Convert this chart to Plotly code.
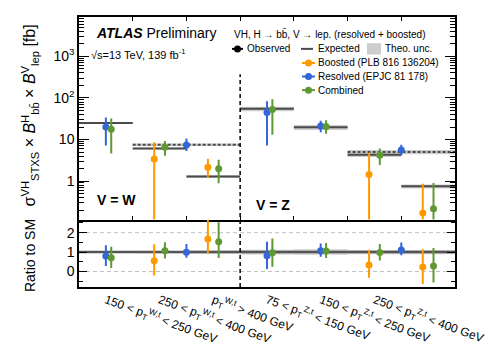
import numpy as np
import plotly.graph_objects as go

# ---------------- data ----------------
categories = [
    "150 &lt; p<sub>T</sub><sup>W,t</sup> &lt; 250 GeV",
    "250 &lt; p<sub>T</sub><sup>W,t</sup> &lt; 400 GeV",
    "p<sub>T</sub><sup>W,t</sup> &gt; 400 GeV",
    "75 &lt; p<sub>T</sub><sup>Z,t</sup> &lt; 150 GeV",
    "150 &lt; p<sub>T</sub><sup>Z,t</sup> &lt; 250 GeV",
    "250 &lt; p<sub>T</sub><sup>Z,t</sup> &lt; 400 GeV",
    "p<sub>T</sub><sup>Z,t</sup> &gt; 400 GeV",
]
expected = [25.0, 6.1, 1.28, 54.7, 19.7, 4.29, 0.745]
theo_unc = [0.05, 0.06, 0.08, 0.12, 0.14, 0.11, 0.11]

# boosted (orange): value, lower edge, upper edge (None = no measurement)
boosted_val = [None, 3.4, 2.15, None, None, 1.44, 0.171]
boosted_lo = [None, -1.28, 1.21, None, None, -1.37, -0.48]
boosted_hi = [None, 8.6, 3.43, None, None, 4.8, 0.855]

# combined (green)
combined_val = [17.7, 6.5, 1.97, 52.7, 20.7, 4.2, 0.214]
combined_lo = [4.6, 4.07, 0.89, 13.0, 13.7, 2.42, -0.42]
combined_hi = [32.0, 9.2, 3.25, 93.0, 28.9, 6.1, 0.90]

# resolved (blue): bins given by first / last category index
resolved_first = [0, 1, 3, 4, 5]
resolved_last = [0, 2, 3, 4, 6]
resolved_expected = [25.0, 7.5, 54.7, 19.7, 5.0]
resolved_unc = [0.05, 0.07, 0.12, 0.14, 0.12]
resolved_val = [20.0, 7.4, 44.5, 21.1, 5.56]
resolved_lo = [7.2, 5.3, 7.2, 14.9, 4.2]
resolved_hi = [33.7, 10.6, 84.0, 28.3, 7.5]

y_ticks = [1, 10, 100, 1000]
y_ticktext = ["1", "10", "10<sup>2</sup>", "10<sup>3</sup>"]
r_ticks = [0, 1, 2]

# ---------------- style ----------------
C_ORANGE = "#ff9900"
C_BLUE = "#3366d6"
C_GREEN = "#5f9933"
C_EXP = "#4a4a4a"
C_BAND = "#cdcdcd"
FONT = "Liberation Sans, Arial, Helvetica, sans-serif"

W, H = 497, 347
L, R, T, B = 71, 50, 7, 52
PW, PH = W - L - R, H - T - B


def px(x):
    return (x - L) / PW


def py(y):
    return (H - B - y) / PH


n = len(categories)
centers = np.arange(1, n + 1, dtype=float)
OFF = 0.1
YMIN_CLIP = 1e-3

fig = go.Figure()


def band_trace(xl, xh, y0, y1, yax, xax):
    return go.Scatter(x=[xl, xh, xh, xl, xl], y=[y0, y0, y1, y1, y0], mode="lines",
                      fill="toself", fillcolor=C_BAND, line=dict(width=0),
                      xaxis=xax, yaxis=yax, showlegend=False, hoverinfo="skip")


# bands (per bin)
for i in range(n):
    e, u = expected[i], theo_unc[i]
    fig.add_trace(band_trace(centers[i] - 0.5, centers[i] + 0.5, e * (1 - u), e * (1 + u), "y", "x"))
    fig.add_trace(band_trace(centers[i] - 0.5, centers[i] + 0.5, 1 - u, 1 + u, "y2", "x2"))
# merged resolved bands
for j in range(len(resolved_val)):
    a, b = resolved_first[j], resolved_last[j]
    if a != b:
        e, u = resolved_expected[j], resolved_unc[j]
        fig.add_trace(band_trace(centers[a] - 0.5, centers[b] + 0.5, e * (1 - u), e * (1 + u), "y", "x"))

# expected lines
xs, ys = [], []
for i in range(n):
    xs += [centers[i] - 0.5, centers[i] + 0.5, None]
    ys += [expected[i], expected[i], None]
fig.add_trace(go.Scatter(x=xs, y=ys, mode="lines", line=dict(color=C_EXP, width=2),
                         xaxis="x", yaxis="y", showlegend=False, hoverinfo="skip"))
xs, ys = [], []
for j in range(len(resolved_val)):
    a, b = resolved_first[j], resolved_last[j]
    if a != b:
        xs += [centers[a] - 0.5, centers[b] + 0.5, None]
        ys += [resolved_expected[j], resolved_expected[j], None]
fig.add_trace(go.Scatter(x=xs, y=ys, mode="lines", line=dict(color=C_EXP, width=2, dash="3px,2px"),
                         xaxis="x", yaxis="y", showlegend=False, hoverinfo="skip"))
# SM line in ratio
fig.add_trace(go.Scatter(x=[centers[0] - 0.5, centers[-1] + 0.5], y=[1, 1], mode="lines",
                         line=dict(color="#555555", width=2.5), xaxis="x2", yaxis="y2",
                         showlegend=False, hoverinfo="skip"))


def points(xv, val, lo, hi, exp, color):
    x, y, ep, em = [], [], [], []
    rx, ry, rep, rem = [], [], [], []
    for k in range(len(val)):
        if val[k] is None:
            continue
        v = val[k]
        lo_clip = lo[k] if lo[k] > 0 else YMIN_CLIP
        x.append(xv[k]); y.append(v); ep.append(hi[k] - v); em.append(v - lo_clip)
        rx.append(xv[k]); ry.append(v / exp[k])
        rep.append((hi[k] - v) / exp[k]); rem.append((v - lo[k]) / exp[k])
    mk = dict(color=color, size=7)
    fig.add_trace(go.Scatter(x=x, y=y, mode="markers", marker=mk, xaxis="x", yaxis="y",
                             error_y=dict(type="data", symmetric=False, array=ep, arrayminus=em,
                                          color=color, thickness=2, width=0),
                             showlegend=False))
    fig.add_trace(go.Scatter(x=rx, y=ry, mode="markers", marker=mk, xaxis="x2", yaxis="y2",
                             error_y=dict(type="data", symmetric=False, array=rep, arrayminus=rem,
                                          color=color, thickness=2, width=0),
                             showlegend=False))


points(centers - OFF, boosted_val, boosted_lo, boosted_hi, expected, C_ORANGE)
res_x = [(centers[a] + centers[b]) / 2 for a, b in zip(resolved_first, resolved_last)]
points(res_x, resolved_val, resolved_lo, resolved_hi, resolved_expected, C_BLUE)
points(centers + OFF, combined_val, combined_lo, combined_hi, expected, C_GREEN)

# ---------------- axes ----------------
minor_up = [m * 10.0 ** d for d in range(-1, 4) for m in range(2, 10)]
boundaries = list(centers[:-1] + 0.5)
axis_common = dict(showline=True, linecolor="black", linewidth=1.5, mirror="ticks",
                   ticks="inside", tickcolor="black", showgrid=False, zeroline=False)

fig.update_layout(
    width=W, height=H, margin=dict(l=L, r=R, t=T, b=B),
    paper_bgcolor="white", plot_bgcolor="white",
    font=dict(family=FONT, color="black", size=12),
    xaxis=dict(domain=[0, 1], anchor="y", range=[0.5, n + 0.5], tickvals=boundaries,
               ticklen=4, showticklabels=False, **axis_common),
    yaxis=dict(domain=[0.25, 1], anchor="x", type="log", range=[-0.926, 3.95],
               tickvals=y_ticks, ticktext=y_ticktext, ticklen=10,
               tickfont=dict(size=14),
               minor=dict(tickvals=minor_up, ticks="inside", ticklen=5, tickcolor="black"),
               **axis_common),
    xaxis2=dict(domain=[0, 1], anchor="y2", range=[0.5, n + 0.5], tickvals=list(centers),
                ticktext=categories, tickangle=20, tickfont=dict(size=12),
                showline=True, linecolor="black", linewidth=1.5, mirror=False, ticks="",
                showgrid=False, zeroline=False),
    yaxis2=dict(domain=[0, 0.25], anchor="x2", range=[-0.8, 2.68], tickvals=r_ticks,
                ticklen=8, tickfont=dict(size=14),
                minor=dict(tickvals=[-0.5, 0.5, 1.5, 2.5], ticks="inside", ticklen=4, tickcolor="black"),
                **axis_common),
)

shapes = []
# dashed grid lines in ratio
for gv in [0, 2]:
    shapes.append(dict(type="line", xref="x2", yref="y2", x0=0.5, x1=n + 0.5, y0=gv, y1=gv,
                       line=dict(color="#c0c0c0", width=1, dash="4px,3px"), layer="below"))
# W/Z separator
shapes.append(dict(type="line", xref="x", yref="paper", x0=3.5, x1=3.5, y0=0, y1=py(68),
                   line=dict(color="black", width=1.5, dash="4px,3px")))

annotations = []


def txt(text, x, y, size, anchor="left", **kw):
    annotations.append(dict(text=text, x=px(x), y=py(y), xref="paper", yref="paper",
                            xanchor=anchor, yanchor="middle", showarrow=False,
                            font=dict(size=size, family=FONT, color="black"), **kw))


txt("<b><i>ATLAS</i></b> Preliminary", 86, 24.5, 14)
txt("√s=13 TeV, 139 fb<sup>-1</sup>", 81, 46, 11)
txt("VH, H → bb̄, V → lep. (resolved + boosted)", 224, 25, 10)
txt("<b>V = W</b>", 87, 202, 14)
txt("<b>V = Z</b>", 246, 207, 14)

# legend
def leg_line(x0, x1, y, color, dot=True):
    shapes.append(dict(type="line", xref="paper", yref="paper", x0=px(x0), x1=px(x1),
                       y0=py(y), y1=py(y), line=dict(color=color, width=2)))
    if dot:
        xc = (x0 + x1) / 2
        shapes.append(dict(type="circle", xref="paper", yref="paper", xsizemode="pixel",
                           ysizemode="pixel", xanchor=px(xc), yanchor=py(y),
                           x0=-3.5, x1=3.5, y0=-3.5, y1=3.5, fillcolor=color,
                           line=dict(color=color, width=0)))


leg_line(224, 235, 41, "black")
txt("Observed", 237, 41, 10)
leg_line(293, 305, 41, C_EXP, dot=False)
txt("Expected", 308, 41, 10)
shapes.append(dict(type="rect", xref="paper", yref="paper", x0=px(359), x1=px(373),
                   y0=py(47), y1=py(35), fillcolor=C_BAND, line=dict(width=0)))
txt("Theo. unc.", 375, 41, 10)
leg_line(294, 307, 56, C_ORANGE)
txt("Boosted (PLB 816 136204)", 308, 56, 10)
leg_line(294, 307, 70.5, C_BLUE)
txt("Resolved (EPJC 81 178)", 308, 70.5, 10)
leg_line(294, 307, 85, C_GREEN)
txt("Combined", 308, 85, 10)

# axis titles
txt("σ<sup>VH</sup><sub>STXS</sub> × <i>B</i><sup>H</sup><sub>bb̄</sub> × <i>B</i><sup>V</sup><sub>lep</sub> [fb]",
    22, 112, 16, anchor="center", textangle=-90)
txt("Ratio to SM", 22, 262, 14, anchor="center", textangle=-90)

fig.update_layout(shapes=shapes, annotations=annotations)
fig.write_html("out.html")
